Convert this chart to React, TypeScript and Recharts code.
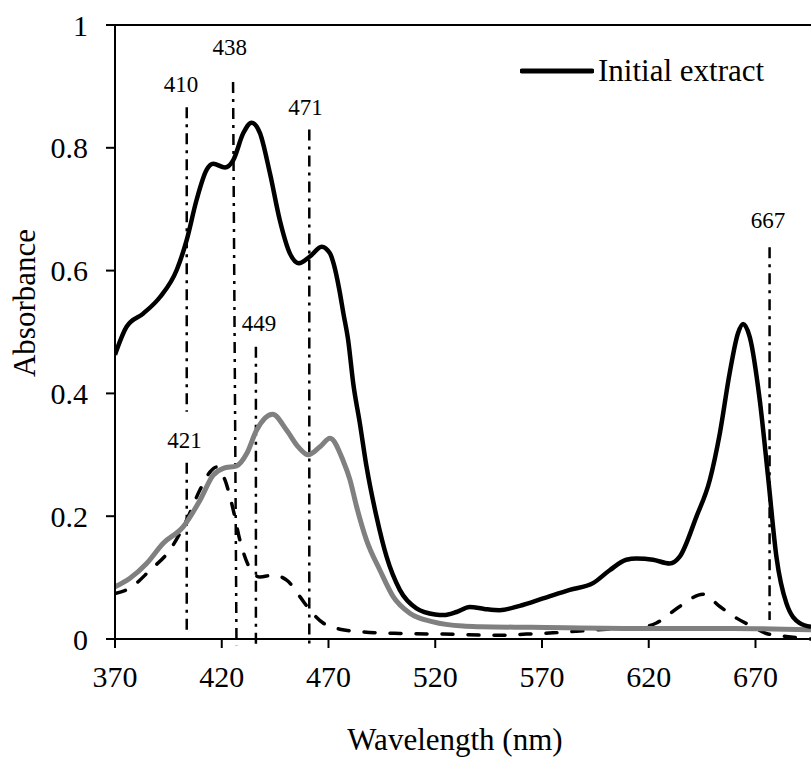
import React from 'react';
import {
  LineChart,
  Line,
  XAxis,
  YAxis,
  ReferenceLine,
  ReferenceDot,
  Legend,
  Label,
} from 'recharts';

const FONT = '"Liberation Serif", "Times New Roman", serif';

// initial extract (black solid)
const initialNm = [
  370, 375.5, 383.2, 391.1, 398.9, 403.6, 408.2, 412.9, 416, 421.5, 425.4, 430.1, 434, 437.9,
  442.6, 447.2, 451.9, 456.1, 461.3, 466.8, 470.7, 472.5, 475, 477, 479.2, 481.6, 484.7, 487.8,
  492.5, 497.2, 503.4, 511.2, 520, 524, 530, 536.2, 543, 550.2, 559.6, 570.5, 583, 593.9, 601.7,
  609.5, 614.2, 622, 629.8, 634.5, 642.3, 648.6, 653.3, 657.9, 661.8, 664.2, 667.3, 672, 675.9,
  679.8, 684.5, 690.7, 696,
];
const initialAbs = [
  0.463, 0.509, 0.53, 0.557, 0.601, 0.65, 0.715, 0.764, 0.774, 0.768, 0.78, 0.824, 0.841, 0.824,
  0.758, 0.682, 0.628, 0.612, 0.623, 0.639, 0.628, 0.61, 0.57, 0.53, 0.487, 0.416, 0.351, 0.281,
  0.199, 0.134, 0.08, 0.05, 0.04, 0.039, 0.044, 0.052, 0.049, 0.047, 0.054, 0.066, 0.08, 0.091,
  0.112, 0.129, 0.131, 0.129, 0.123, 0.134, 0.199, 0.259, 0.335, 0.433, 0.498, 0.513, 0.492,
  0.389, 0.264, 0.134, 0.058, 0.026, 0.02,
];

// grey solid curve
const greyNm = [
  370, 377, 384.8, 392.6, 402, 409.8, 416, 420.7, 427, 431.7, 436.3, 443.8, 450.4, 455.8, 460.5,
  466, 470.7, 476.9, 480, 483.2, 487.8, 494.1, 500.3, 508.1, 519, 533, 541, 565, 620, 660, 696,
];
const greyAbs = [
  0.085, 0.099, 0.123, 0.156, 0.183, 0.226, 0.267, 0.278, 0.282, 0.302, 0.34, 0.366, 0.34, 0.313,
  0.3, 0.313, 0.327, 0.29, 0.26, 0.215, 0.161, 0.112, 0.069, 0.042, 0.028, 0.021, 0.02, 0.019,
  0.017, 0.017, 0.015,
];

// dashed curve
const dashedNm = [
  370, 377, 386.4, 395.7, 403.6, 409.8, 414.5, 417.6, 421.5, 425.4, 428.5, 433.2, 437.9, 444.1,
  450.4, 456.6, 461.3, 467.5, 475.3, 485, 503.4, 523.7, 548.6, 562.7, 575.2, 587.7, 600.2, 612.6,
  623.6, 634.5, 645.4, 653.3, 661.1, 668.8, 675.1, 684.5, 696,
];
const dashedAbs = [
  0.074, 0.083, 0.112, 0.145, 0.194, 0.243, 0.272, 0.28, 0.259, 0.21, 0.161, 0.115, 0.101, 0.104,
  0.096, 0.069, 0.047, 0.026, 0.016, 0.012, 0.009, 0.008, 0.006, 0.008, 0.01, 0.013, 0.016, 0.017,
  0.026, 0.053, 0.073, 0.053, 0.034, 0.02, 0.009, 0.004, 0,
];

const xTicks = [370, 420, 470, 520, 570, 620, 670];
const yTicks = [0, 0.2, 0.4, 0.6, 0.8, 1];

// peak markers (dash-dot lines with their labels)
const peakText = ['410', '421', '438', '449', '471', '667'];
const peakTopNm = [403.6, 403.6, 425.3, 436, 461, 676.6];
const peakBottomNm = [403.6, 403.6, 426.9, 436, 461, 676.6];
const peakTop = [0.866, 0.287, 0.907, 0.476, 0.83, 0.638];
const peakBottom = [0.37, 0.011, -0.01, -0.01, -0.013, 0.031];
const peakLabelNm = [400.9, 402.5, 423.8, 437.4, 459.2, 675.9];
const peakLabelAbs = [0.904, 0.324, 0.965, 0.515, 0.866, 0.682];

const zip = (xs: number[], ys: number[]) => xs.map((nm, i) => ({ nm, abs: ys[i] }));

const initialData = zip(initialNm, initialAbs);
const greyData = zip(greyNm, greyAbs);
const dashedData = zip(dashedNm, dashedAbs);

const tickStyle = { fontFamily: FONT, fontSize: 30, fill: '#000' };

function LegendBox() {
  return (
    <div style={{ display: 'flex', alignItems: 'center', fontFamily: FONT, fontSize: 31, color: '#000' }}>
      <svg width={74} height={36}>
        <line x1={2} y1={18} x2={72} y2={18} stroke="#000" strokeWidth={5} strokeLinecap="round" />
      </svg>
      <span style={{ marginLeft: 4, lineHeight: '36px', whiteSpace: 'nowrap' }}>Initial extract</span>
    </div>
  );
}

export default function App() {
  return (
    <div style={{ position: 'absolute', left: 0, top: 0, background: '#fff' }}>
      <LineChart width={811} height={758} margin={{ top: 25, right: 0, bottom: 0, left: 0 }}>
        <XAxis
          dataKey="nm"
          type="number"
          domain={[370, 696]}
          ticks={xTicks}
          allowDataOverflow
          height={119}
          tick={tickStyle}
          tickSize={9}
          tickMargin={18}
          stroke="#000"
          strokeWidth={2}
        >
          <Label
            content={() => (
              <text x={455} y={750} textAnchor="middle" fontFamily={FONT} fontSize={31} fill="#000">
                Wavelength (nm)
              </text>
            )}
          />
        </XAxis>
        <YAxis
          type="number"
          domain={[0, 1]}
          ticks={yTicks}
          width={115}
          tick={tickStyle}
          tickSize={9}
          tickMargin={18}
          tickFormatter={(v: number) => String(v)}
          stroke="#000"
          strokeWidth={2}
        >
          <Label
            content={() => (
              <text
                x={24}
                y={303}
                transform="rotate(-90 24 303)"
                textAnchor="middle"
                dominantBaseline="central"
                fontFamily={FONT}
                fontSize={31}
                fill="#000"
              >
                Absorbance
              </text>
            )}
          />
        </YAxis>

        <ReferenceLine y={1} stroke="#000" strokeWidth={2} />

        {peakText.map((t, i) => (
          <ReferenceLine
            key={'l' + t}
            segment={[
              { x: peakTopNm[i], y: peakTop[i] },
              { x: peakBottomNm[i], y: peakBottom[i] },
            ]}
            stroke="#000"
            strokeWidth={2.5}
            strokeDasharray="11 6 3 6"
            ifOverflow="visible"
          />
        ))}

        <Line
          data={dashedData}
          dataKey="abs"
          type="monotone"
          stroke="#000"
          strokeWidth={3.5}
          strokeDasharray="11 15"
          strokeLinecap="round"
          dot={false}
          isAnimationActive={false}
          legendType="none"
        />
        <Line
          data={greyData}
          dataKey="abs"
          type="monotone"
          stroke="#808080"
          strokeWidth={5}
          dot={false}
          isAnimationActive={false}
          legendType="none"
        />
        <Line
          data={initialData}
          dataKey="abs"
          name="Initial extract"
          type="monotone"
          stroke="#000"
          strokeWidth={4.5}
          dot={false}
          isAnimationActive={false}
        />

        {peakText.map((t, i) => (
          <ReferenceDot
            key={'d' + t}
            x={peakLabelNm[i]}
            y={peakLabelAbs[i]}
            r={1}
            fill="none"
            stroke="none"
            ifOverflow="visible"
            label={{ value: t, position: 'center', fontFamily: FONT, fontSize: 23, fill: '#000' }}
          />
        ))}

        <Legend
          layout="horizontal"
          verticalAlign="middle"
          align="center"
          wrapperStyle={{ top: 53, left: 520, width: 'auto' }}
          content={() => <LegendBox />}
        />
      </LineChart>
    </div>
  );
}
